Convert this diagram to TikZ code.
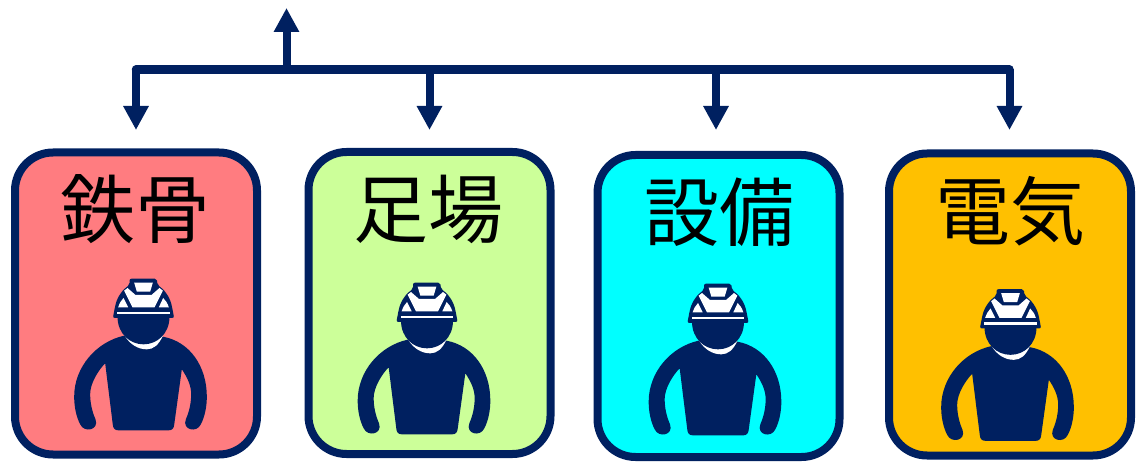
\documentclass[tikz,border=0pt]{standalone}
\usepackage{fontspec}
\newfontfamily\cjk{Noto Sans CJK JP}
\usetikzlibrary{arrows.meta}
\definecolor{navy}{HTML}{002060}
\definecolor{redbox}{HTML}{FF7C80}
\definecolor{greenbox}{HTML}{CCFF99}
\definecolor{cyanbox}{HTML}{00FFFF}
\definecolor{amberbox}{HTML}{FFC000}
\tikzset{
  card/.style={draw=navy,line width=8pt,rounded corners=38pt,minimum width=242pt,minimum height=302pt,inner sep=0pt,outer sep=0pt},
  title/.style={font=\cjk\fontsize{75}{75}\selectfont,text=black,inner sep=0pt},
  busline/.style={draw=navy,line width=8.5pt,line cap=round},
  flow/.style={draw=navy,line width=8pt,-{Triangle[length=24pt,width=24pt]}},
  worker/.pic={
    \begin{scope}[x=0.3333pt,y=-0.3333pt]
      % body
      \fill[navy] (-58,197) .. controls (-140,215) and (-208,290) .. (-208,380)
        .. controls (-208,410) and (-202,440) .. (-190,463)
        .. controls (-178,490) and (-132,480) .. (-144,448)
        .. controls (-154,425) and (-160,400) .. (-160,372)
        .. controls (-160,340) and (-135,300) .. (-115,280)
        -- (-92,465) .. controls (-91,475) and (-86,481) .. (-76,481)
        -- (76,481) .. controls (86,481) and (91,475) .. (92,465)
        -- (115,298)
        .. controls (130,320) and (143,345) .. (143,372)
        .. controls (143,400) and (137,425) .. (127,448)
        .. controls (115,480) and (160,490) .. (172,463)
        .. controls (184,440) and (190,410) .. (190,380)
        .. controls (190,290) and (140,215) .. (58,200)
        -- cycle;
      % collar
      \fill[white] (-58,195) .. controls (-40,225) and (-15,238) .. (10,238)
        .. controls (30,238) and (45,225) .. (58,198)
        -- (0,170) -- cycle;
      % head
      \fill[navy] (-78,140) -- (78,140) .. controls (78,190) and (42,223) .. (0,223)
        .. controls (-42,223) and (-78,190) .. (-78,140) -- cycle;
      % helmet
      \fill[navy,rounded corners=2pt] (-92,144) -- (-85,108)
        .. controls (-78,80) and (-62,58) .. (-42,45)
        -- (-42,26) -- (40,26) -- (42,45)
        .. controls (62,58) and (78,80) .. (85,108)
        -- (92,144) -- cycle;
      \fill[white] (-79,126) -- (79,126) -- (79,133) -- (-79,133) -- cycle;
      \fill[white] (-28,38) -- (28,38) -- (20,65) -- (-20,65) -- cycle;
      \fill[white] (-48,54) -- (-24,75) -- (24,75) -- (48,54)
        -- (58,62) -- (33,112) -- (-33,112) -- (-58,62) -- cycle;
      \fill[white] (-76,112) .. controls (-72,100) and (-67,91) .. (-60,84) -- (-46,112) -- cycle;
      \fill[white] (76,112) .. controls (72,100) and (67,91) .. (59,84) -- (46,112) -- cycle;
    \end{scope}
  }
}
\begin{document}
\begin{tikzpicture}[x=1pt,y=-1pt]
\useasboundingbox (0,0) rectangle (1140,462);
% cards
\node[card,fill=redbox] (c1) at (136,303.5) {};
\node[card,fill=greenbox] (c2) at (429.5,303) {};
\node[card,fill=cyanbox] (c3) at (718.5,306) {};
\node[card,fill=amberbox] (c4) at (1010,304.5) {};
% titles
\node[title] (t1) at (135.5,209) {鉄骨};
\node[title] (t2) at (428.5,209) {足場};
\node[title] (t3) at (719.5,212) {設備};
\node[title] (t4) at (1010.5,211) {電気};
% workers
\pic (w1) at (143.5,270) {worker};
\pic (w2) at (427,274) {worker};
\pic (w3) at (718,275) {worker};
\pic (w4) at (1010.5,280.5) {worker};
% connectors
\coordinate (busL) at (136,69.5);
\coordinate (busR) at (1009.5,69.5);
\coordinate (busUp) at (286.5,69.5);
\coordinate (up) at (286.5,8);
\coordinate (bus2) at (429.5,69.5);
\coordinate (bus3) at (716,69.5);
\coordinate (d1) at (136,130);
\coordinate (d2) at (429.5,130);
\coordinate (d3) at (716,130);
\coordinate (d4) at (1009.5,130);
\draw[busline] (busL) -- (busR);
\draw[flow] (busUp) -- (up);
\draw[flow] (busL) -- (d1);
\draw[flow] (bus2) -- (d2);
\draw[flow] (bus3) -- (d3);
\draw[flow] (busR) -- (d4);
\end{tikzpicture}
\end{document}
